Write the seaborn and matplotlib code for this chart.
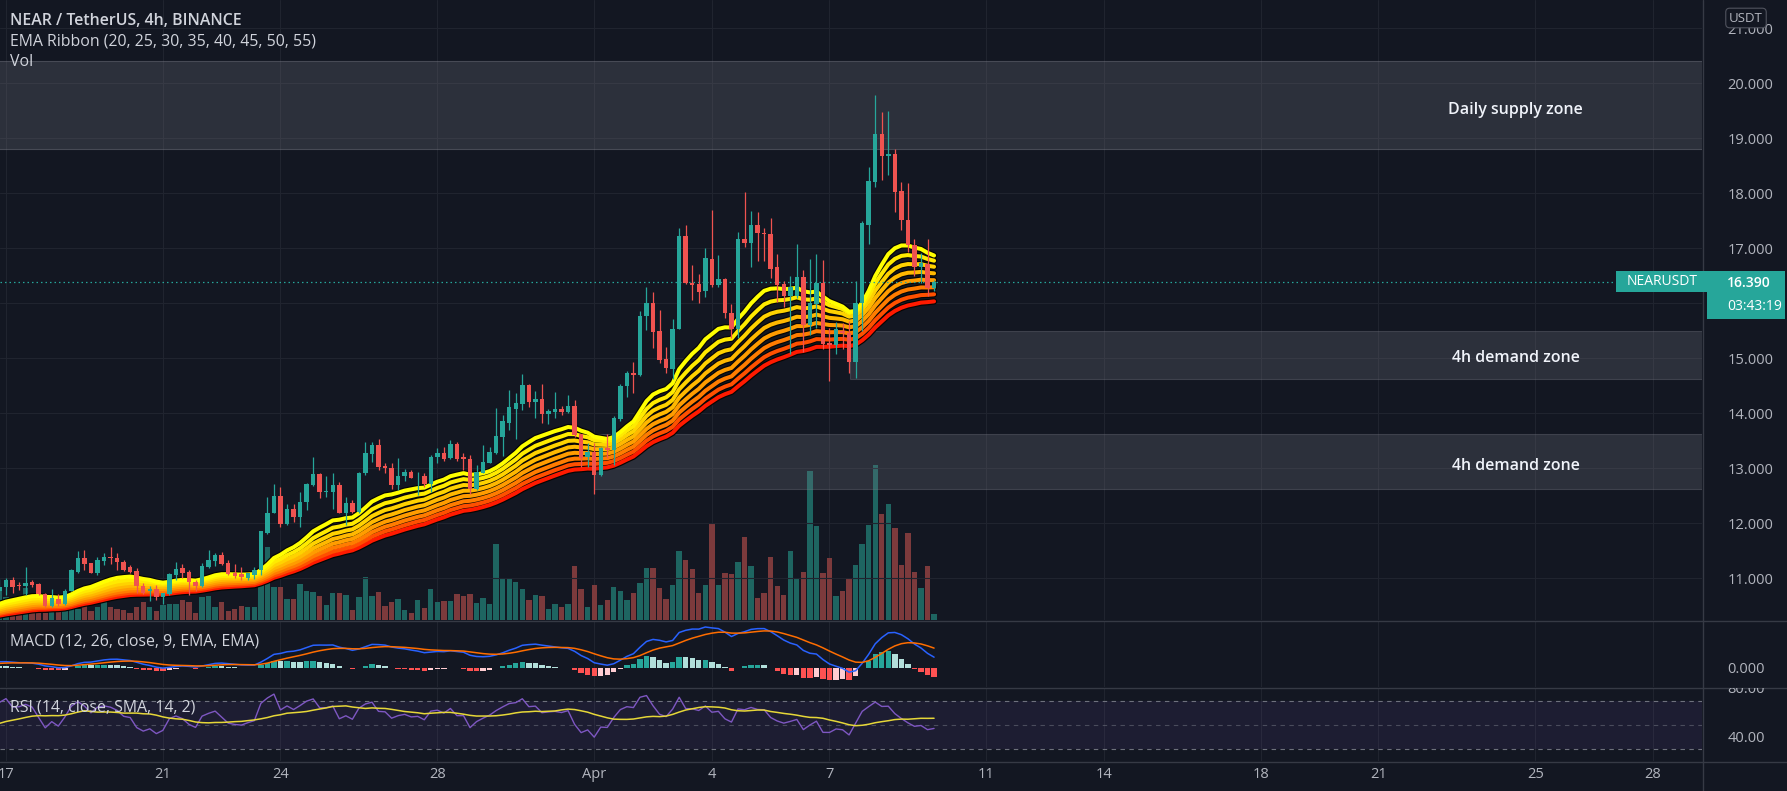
import numpy as np
import pandas as pd
import matplotlib
matplotlib.use("Agg")
import matplotlib.pyplot as plt
import seaborn as sns
from matplotlib.patches import Rectangle
from matplotlib.lines import Line2D
from matplotlib.transforms import Bbox

# ---------------------------------------------------------------- data
first_bar_day = -1 / 6          # first 4h bar: Mar 16 20:00 (days from Mar 17 00:00)
bar_days = 4 / 24

opens = [
    10.76, 10.84, 10.96, 10.87, 10.85, 10.93, 10.90, 10.72, 10.50, 10.63, 10.53, 10.77,
    11.12, 11.36, 11.27, 11.10, 11.32, 11.39, 11.37, 11.29, 11.20, 11.13, 10.85, 10.76,
    10.80, 10.66, 10.71, 11.06, 11.18, 11.11, 10.94, 10.85, 11.21, 11.32, 11.42, 11.27,
    11.09, 11.08, 11.01, 11.06, 11.15, 11.82, 12.19, 12.49, 11.99, 12.25, 12.12, 12.38,
    12.70, 12.89, 12.56, 12.57, 12.69, 12.19, 12.36, 12.21, 12.91, 13.26, 13.42, 13.04,
    13.00, 12.70, 12.85, 12.94, 12.85, 12.86, 12.71, 13.20, 13.27, 13.18, 13.44, 13.20,
    13.17, 12.63, 12.92, 13.10, 13.28, 13.57, 13.83, 14.07, 14.17, 14.51, 14.21, 14.25,
    13.99, 14.03, 14.07, 14.03, 14.13, 13.63, 13.21, 13.30, 12.88, 13.36, 13.33, 13.89,
    14.49, 14.74, 14.70, 15.77, 16.00, 15.50, 14.98, 14.80, 15.54, 17.22, 16.37, 16.35,
    16.22, 16.80, 16.33, 16.44, 15.83, 15.54, 17.17, 17.10, 17.43, 17.27, 17.25, 16.65,
    16.35, 16.14, 16.13, 16.48, 15.60, 15.98, 16.36, 15.27, 15.24, 15.50, 15.46, 14.94,
    16.00, 17.43, 18.21, 19.07, 18.68, 18.71, 18.04, 17.52, 17.05, 16.65, 16.72, 16.27,
]
highs = [
    10.98, 11.00, 11.02, 10.94, 11.21, 10.97, 10.91, 10.74, 10.80, 10.71, 10.80, 11.16,
    11.50, 11.51, 11.28, 11.38, 11.45, 11.57, 11.45, 11.34, 11.24, 11.18, 10.91, 10.85,
    10.88, 10.74, 11.09, 11.30, 11.26, 11.15, 10.97, 11.28, 11.51, 11.45, 11.47, 11.33,
    11.26, 11.20, 11.10, 11.21, 11.85, 12.48, 12.72, 12.66, 12.35, 12.35, 12.56, 12.74,
    13.21, 12.91, 12.85, 12.91, 12.75, 12.48, 12.43, 12.93, 13.48, 13.48, 13.54, 13.09,
    13.09, 13.18, 12.98, 12.96, 12.94, 12.91, 13.24, 13.36, 13.39, 13.51, 13.48, 13.27,
    13.24, 13.06, 13.42, 13.39, 14.09, 13.97, 14.43, 14.36, 14.72, 14.54, 14.41, 14.53,
    14.07, 14.39, 14.14, 14.33, 14.24, 13.63, 13.45, 13.45, 13.39, 13.63, 13.95, 14.53,
    14.76, 14.94, 15.85, 16.29, 16.21, 15.88, 15.21, 15.72, 17.36, 17.42, 16.69, 16.54,
    17.00, 17.69, 16.88, 16.46, 15.99, 17.30, 18.02, 17.68, 17.65, 17.37, 17.55, 16.90,
    16.40, 16.49, 17.08, 16.61, 16.81, 16.90, 16.79, 15.55, 15.66, 15.64, 15.67, 16.40,
    17.50, 18.48, 19.78, 19.48, 19.49, 18.81, 18.21, 18.19, 17.17, 16.91, 17.17, 16.43,
]
lows = [
    10.72, 10.70, 10.74, 10.79, 10.70, 10.84, 10.70, 10.48, 10.48, 10.50, 10.51, 10.76,
    11.10, 11.15, 11.09, 11.06, 11.24, 11.26, 11.15, 11.14, 11.09, 10.73, 10.71, 10.59,
    10.60, 10.54, 10.70, 10.97, 11.00, 10.70, 10.76, 10.84, 11.18, 11.22, 11.24, 11.06,
    11.00, 10.97, 10.97, 10.98, 11.06, 11.80, 12.18, 11.93, 11.97, 12.03, 11.93, 12.24,
    12.68, 12.45, 12.48, 12.25, 12.18, 11.97, 12.18, 12.18, 12.88, 13.12, 12.96, 12.91,
    12.63, 12.61, 12.76, 12.82, 12.51, 12.66, 12.57, 13.09, 13.14, 13.16, 13.14, 12.97,
    12.53, 12.61, 12.91, 13.09, 13.26, 13.22, 13.69, 13.54, 14.06, 14.11, 13.91, 13.82,
    13.80, 13.92, 13.96, 14.01, 13.57, 13.03, 13.03, 12.54, 12.85, 13.18, 13.06, 13.86,
    14.30, 14.36, 14.68, 15.51, 15.18, 14.92, 14.73, 14.62, 15.53, 16.35, 16.05, 16.01,
    16.12, 16.30, 16.30, 15.74, 15.36, 15.37, 17.02, 16.65, 16.77, 16.77, 16.46, 16.02,
    15.93, 15.08, 16.10, 15.11, 15.42, 15.55, 15.17, 14.58, 15.08, 15.17, 14.74, 14.64,
    15.49, 17.07, 18.12, 18.24, 18.34, 17.65, 17.33, 16.93, 16.49, 16.36, 16.14, 16.22,
]
closes = [
    10.84, 10.97, 10.84, 10.85, 10.92, 10.88, 10.71, 10.50, 10.64, 10.54, 10.77, 11.15,
    11.36, 11.26, 11.10, 11.33, 11.39, 11.36, 11.29, 11.15, 11.12, 10.85, 10.74, 10.80,
    10.65, 10.73, 11.08, 11.17, 11.10, 10.94, 10.85, 11.22, 11.33, 11.42, 11.26, 11.08,
    11.04, 11.02, 11.09, 11.15, 11.85, 12.19, 12.49, 11.99, 12.25, 12.12, 12.38, 12.71,
    12.89, 12.57, 12.58, 12.69, 12.19, 12.36, 12.21, 12.92, 13.27, 13.42, 13.02, 13.00,
    12.70, 12.86, 12.94, 12.83, 12.86, 12.72, 13.21, 13.27, 13.16, 13.44, 13.16, 13.16,
    12.62, 12.93, 13.12, 13.30, 13.59, 13.85, 14.11, 14.18, 14.51, 14.21, 14.25, 13.99,
    14.04, 14.07, 14.03, 14.13, 13.60, 13.18, 13.30, 12.88, 13.36, 13.34, 13.91, 14.49,
    14.74, 14.70, 15.77, 16.00, 15.48, 14.97, 14.82, 15.54, 17.22, 16.36, 16.34, 16.21,
    16.82, 16.33, 16.44, 15.83, 15.54, 17.17, 17.10, 17.43, 17.27, 17.25, 16.63, 16.33,
    16.14, 16.30, 16.48, 15.60, 16.00, 16.36, 15.25, 15.24, 15.54, 15.46, 14.94, 16.00,
    17.46, 18.23, 19.07, 18.67, 18.71, 18.02, 17.52, 17.05, 16.65, 16.74, 16.27, 16.39,
]
volumes = [  # 10k NEAR
    32, 23, 19, 5, 32, 8, 7, 7, 9, 11, 13, 11,
    11, 14, 9, 13, 18, 13, 11, 10, 7, 13, 18, 13,
    9, 15, 16, 16, 20, 18, 7, 23, 24, 13, 18, 9,
    11, 14, 13, 13, 35, 73, 33, 33, 21, 21, 36, 29,
    28, 24, 15, 27, 27, 25, 10, 23, 43, 24, 28, 14,
    18, 21, 10, 7, 20, 12, 31, 18, 19, 19, 26, 24,
    26, 17, 22, 16, 76, 42, 42, 38, 31, 20, 25, 24,
    11, 16, 13, 16, 54, 31, 13, 35, 15, 20, 33, 29,
    20, 27, 37, 52, 52, 32, 21, 35, 69, 60, 51, 27,
    35, 97, 35, 47, 46, 58, 83, 54, 22, 27, 63, 34,
    25, 69, 41, 48, 149, 94, 47, 62, 24, 29, 42, 55,
    76, 95, 155, 106, 116, 92, 55, 87, 48, 32, 54, 6,
]

ema_lengths = [20, 25, 30, 35, 40, 45, 50, 55]
ema_seeds = [10.50, 10.47, 10.44, 10.41, 10.38, 10.35, 10.33, 10.30]
ema_colors = ["#ffff00", "#ffea00", "#ffd200", "#ffb800", "#ff9c00", "#ff7c00", "#ff5000", "#ff1a00"]

macd_fast_seed, macd_slow_seed, macd_signal_seed = 10.86, 10.74, 0.07
rsi_gain_seed, rsi_loss_seed, rsi_ma_seed = 0.06, 0.03, 50.0

supply_zone = (18.80, 20.41)
demand_zones = [(14.63, 15.50), (12.62, 13.62)]
demand_start_days = [21.52, 15.0]
zone_labels = ["Daily supply zone", "4h demand zone", "4h demand zone"]
zone_label_y = [19.52, 15.00, 13.04]
zone_label_day = 38.5

tick_days = [0, 4, 7, 11, 15, 18, 21, 25, 28, 32, 35, 39, 42]
tick_labels = ["17", "21", "24", "28", "Apr", "4", "7", "11", "14", "18", "21", "25", "28"]
price_ticks = [11, 12, 13, 14, 15, 16, 17, 18, 19, 20, 21]
last_price = 16.390
countdown = "03:43:19"

# ---------------------------------------------------------------- style
BG = "#131722"
GRID = "#20242f"
SEP = "#363a45"
TXT = "#d1d4dc"
AX_TXT = "#b2b5be"
UP, DN = "#26a69a", "#ef5350"
VUP, VDN = "#1e6561", "#7c3a3c"

sns.set_theme(style="dark")
plt.rcParams["font.family"] = ["Open Sans", "DejaVu Sans"]

W, H, DPI = 1787, 791, 100
fig = plt.figure(figsize=(W / DPI, H / DPI), dpi=DPI, facecolor=BG)


def px_box(x0, y0, x1, y1):
    return [x0 / W, 1 - y1 / H, (x1 - x0) / W, (y1 - y0) / H]


PLOT_R = 1702
DAY_PX = 39.214
X0, X1 = -6 / DAY_PX, (PLOT_R - 6) / DAY_PX

O = np.array(opens); Hh = np.array(highs); L = np.array(lows); C = np.array(closes)
V = np.array(volumes, dtype=float)
n = len(C)
t = first_bar_day + np.arange(n) * bar_days
up = C >= O

axv = fig.add_axes(px_box(0, 0, PLOT_R, 620))
ax = fig.add_axes(px_box(0, 0, PLOT_R, 620))
axm = fig.add_axes(px_box(0, 621, PLOT_R, 687))
axr = fig.add_axes(px_box(0, 688, PLOT_R, 761))

for a in (axv, ax, axm, axr):
    a.set_xlim(X0, X1)
    a.set_facecolor(BG)
    for s in a.spines.values():
        s.set_visible(False)
    a.set_xticks(tick_days)
    a.tick_params(axis="both", length=0)
    a.grid(False)
ax.patch.set_visible(False)

# volume
axv.bar(t, V, width=0.82 * bar_days, color=np.where(up, VUP, VDN), linewidth=0)
axv.set_ylim(0, V.max() * 620 / 155)
axv.set_yticks([])
axv.set_xticklabels([])
for d in tick_days:
    axv.axvline(d, color=GRID, lw=0.8, zorder=0)

# main pane
ax.set_ylim(20 - (620 - 83.2) / 55, 20 + 83.2 / 55)
for p in price_ticks:
    ax.axhline(p, color=GRID, lw=0.8, zorder=0)
ax.set_xticklabels([])
ax.yaxis.tick_right()
ax.set_yticks(price_ticks)
# the 16.000 label sits under the last-price tag, as in the reference
ax.set_yticklabels(["" if p == 16 else f"{p:.3f}" for p in price_ticks])
ax.tick_params(axis="y", pad=18.5, labelsize=10.5, labelcolor=AX_TXT)

zc = (120 / 255, 123 / 255, 134 / 255)
ax.add_patch(Rectangle((X0 - 1, supply_zone[0]), X1 - X0 + 2, supply_zone[1] - supply_zone[0],
                       facecolor=zc + (0.25,), edgecolor=zc + (0.45,), lw=0.8, zorder=1))
for (lo, hi), d0 in zip(demand_zones, demand_start_days):
    ax.add_patch(Rectangle((d0, lo), X1 - d0 + 1, hi - lo,
                           facecolor=zc + (0.25,), edgecolor=zc + (0.35,), lw=0.8, zorder=1))
for lab, y in zip(zone_labels, zone_label_y):
    ax.text(zone_label_day, y, lab, ha="center", va="center", color="#f0f3fa",
            fontsize=11.5, fontweight="semibold", zorder=8)


def ema(x, length, seed):
    a = 2 / (length + 1)
    out = np.empty(len(x))
    prev = seed
    for i, v in enumerate(x):
        prev = prev + a * (v - prev)
        out[i] = prev
    return out


emas = [ema(C, ln, sd) for ln, sd in zip(ema_lengths, ema_seeds)]
for e in emas:
    sns.lineplot(x=t, y=e, ax=ax, color="#050505", linewidth=4.6, zorder=3, legend=False)
for e, c in list(zip(emas, ema_colors))[::-1]:
    sns.lineplot(x=t, y=e, ax=ax, color=c, linewidth=2.9, zorder=4, legend=False)

ccol = np.where(up, UP, DN)
ax.vlines(t, L, Hh, colors=ccol, lw=0.9, zorder=5)
ax.bar(t, np.maximum(np.abs(C - O), 0.012), bottom=np.minimum(O, C),
       width=0.68 * bar_days, color=ccol, linewidth=0, zorder=6)
ax.axhline(last_price, color=UP, lw=0.9, ls=(0, (1.2, 2.4)), zorder=4)
ax.set_ylabel("")

# MACD
fast = ema(C, 12, macd_fast_seed)
slow = ema(C, 26, macd_slow_seed)
macd = fast - slow
signal = ema(macd, 9, macd_signal_seed)
hist = macd - signal
prev = np.r_[hist[0], hist[:-1]]
hcol = np.where(hist >= 0, np.where(prev < hist, "#26a69a", "#b2dfdb"),
                np.where(prev < hist, "#ffcdd2", "#ff5252"))
axm.bar(t, hist, width=0.82 * bar_days, color=hcol, linewidth=0, zorder=2)
sns.lineplot(x=t, y=macd, ax=axm, color="#2962ff", linewidth=1.1, zorder=3, legend=False)
sns.lineplot(x=t, y=signal, ax=axm, color="#ff6d00", linewidth=1.1, zorder=3, legend=False)
peak = max(macd.max(), signal.max())
R = peak / 0.614
axm.set_ylim(-0.295 * R, 0.705 * R)
axm.yaxis.tick_right()
axm.set_yticks([0])
axm.set_yticklabels(["0.000"])
axm.tick_params(axis="y", pad=18.5, labelsize=10.5, labelcolor=AX_TXT)
axm.set_xticklabels([])
for d in tick_days:
    axm.axvline(d, color=GRID, lw=0.8, zorder=0)

# RSI
ag, al = rsi_gain_seed, rsi_loss_seed
rsi = np.empty(n)
prev_c = O[0]
for i, c in enumerate(C):
    d = c - prev_c
    prev_c = c
    ag = (ag * 13 + max(d, 0)) / 14
    al = (al * 13 + max(-d, 0)) / 14
    rsi[i] = 100 - 100 / (1 + ag / al)
rsi_ma = pd.Series(np.r_[np.full(13, rsi_ma_seed), rsi]).rolling(14).mean().values[13:]
axr.set_ylim(20, 80.8)
axr.axhspan(30, 70, color="#7e57c2", alpha=0.1, lw=0, zorder=1)
for lvl, al_ in ((70, 0.9), (50, 0.5), (30, 0.9)):
    axr.axhline(lvl, color="#787b86", lw=0.8, ls=(0, (4, 4)), alpha=al_, zorder=2)
for d in tick_days:
    axr.axvline(d, color=GRID, lw=0.8, zorder=0)
sns.lineplot(x=t, y=rsi, ax=axr, color="#7e57c2", linewidth=1.0, zorder=3, legend=False)
sns.lineplot(x=t, y=rsi_ma, ax=axr, color="#e6d738", linewidth=1.1, zorder=4, legend=False)
axr.yaxis.tick_right()
axr.set_yticks([40])
axr.set_yticklabels(["40.00"])
axr.tick_params(axis="y", pad=18.5, labelsize=10.5, labelcolor=AX_TXT)
axr.set_xticklabels(tick_labels)
axr.tick_params(axis="x", pad=4.5, labelsize=10.5, labelcolor=AX_TXT)
for a in (ax, axm, axr):
    a.set_xlabel(""); a.set_ylabel("")

# clipped 80.00 label
t80 = fig.text(1727 / W, 1 - 689.5 / H, "80.00", ha="left", va="center",
               color=AX_TXT, fontsize=10.5, zorder=6)
t80.set_clip_box(Bbox.from_extents(PLOT_R + 1, H - 761, W, H - 688))
t80.set_clip_on(True)

# separators
for y in (620.5, 687.5, 761.5):
    fig.add_artist(Line2D([0, 1], [1 - y / H] * 2, transform=fig.transFigure,
                          color=SEP, lw=1.0, zorder=4))
fig.add_artist(Line2D([(PLOT_R + 0.5) / W] * 2, [0, 1], transform=fig.transFigure,
                      color=SEP, lw=1.0, zorder=4))

# legends
fig.text(10 / W, 1 - 21 / H, "NEAR / TetherUS, 4h, BINANCE", ha="left", va="center",
         color=TXT, fontsize=11.4, fontweight="semibold", zorder=7)
fig.text(10 / W, 1 - 42 / H, "EMA Ribbon (20, 25, 30, 35, 40, 45, 50, 55)", ha="left",
         va="center", color=TXT, fontsize=11.4, zorder=7)
fig.text(10 / W, 1 - 62 / H, "Vol", ha="left", va="center", color=TXT, fontsize=11.4, zorder=7)
fig.text(10 / W, 1 - 642 / H, "MACD (12, 26, close, 9, EMA, EMA)", ha="left", va="center",
         color=TXT, fontsize=11.4, zorder=7)
fig.text(10 / W, 1 - 708 / H, "RSI (14, close, SMA, 14, 2)", ha="left", va="center",
         color=TXT, fontsize=11.4, zorder=7)

# price tags
fig.add_artist(Rectangle((1616 / W, 1 - 292 / H), 93 / W, 21 / H, transform=fig.transFigure,
                         facecolor=UP, edgecolor="none", zorder=5))
fig.text(1662.5 / W, 1 - 281.5 / H, "NEARUSDT", ha="center", va="center", color="white",
         fontsize=10, zorder=7)
fig.add_artist(Rectangle((1707 / W, 1 - 319 / H), 78 / W, 48 / H, transform=fig.transFigure,
                         facecolor=UP, edgecolor="none", zorder=5))
fig.text(1727 / W, 1 - 282.5 / H, f"{last_price:.3f}", ha="left", va="center", color="white",
         fontsize=10, fontweight="semibold", zorder=7)
fig.text(1727 / W, 1 - 306.5 / H, countdown, ha="left", va="center", color="white",
         fontsize=10, zorder=7)
fig.text(1746 / W, 1 - 18 / H, "USDT", ha="center", va="center", color=AX_TXT, fontsize=9.5,
         zorder=7, bbox=dict(boxstyle="round,pad=0.25,rounding_size=0.3", fc=BG, ec="#50535e", lw=0.8))

fig.savefig("out.png", dpi=DPI, facecolor=BG)
